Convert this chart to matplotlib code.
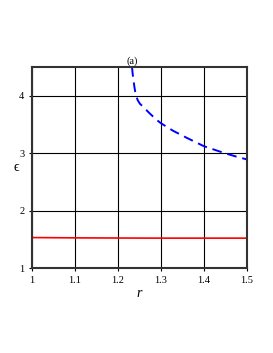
import matplotlib.pyplot as plt
import numpy as np

plt.rcParams['font.family'] = ['Liberation Serif', 'DejaVu Serif']

# blue dashed branch
r_blue = [1.2325, 1.234, 1.236, 1.238, 1.240, 1.2425, 1.246, 1.251, 1.258,
          1.266, 1.274, 1.289, 1.30, 1.328, 1.359, 1.40, 1.448, 1.475, 1.50]
eps_blue = [4.5, 4.39, 4.27, 4.16, 4.07, 3.99, 3.92, 3.86, 3.81,
            3.75, 3.69, 3.585, 3.52, 3.39, 3.27, 3.12, 3.0, 2.94, 2.89]
# red solid branch
r_red = [1.0, 1.1, 1.2, 1.3, 1.4, 1.5]
eps_red = [1.53, 1.525, 1.522, 1.52, 1.52, 1.52]

xticks = [1, 1.1, 1.2, 1.3, 1.4, 1.5]
xticklabels = ['1', '1.1', '1.2', '1.3', '1.4', '1.5']
yticks = [1, 2, 3, 4]

fig = plt.figure(figsize=(2.73, 3.53), dpi=100)
ax = fig.add_axes([32/273, 1 - 268/353, 215/273, 201/353])

ax.plot(r_red, eps_red, color='red', lw=1.2)
ax.plot(r_blue, eps_blue, color='blue', lw=1.4, ls=(0, (5, 3)))

ax.set_xlim(1, 1.5)
ax.set_ylim(1, 4.5)
ax.set_xticks(xticks)
ax.set_xticklabels(xticklabels)
ax.set_yticks(yticks)
ax.grid(True, color='black', lw=0.8)
ax.tick_params(labelsize=7.5, length=2, width=0.8)
for s in ax.spines.values():
    s.set_linewidth(1.5)
    s.set_color('#333333')

ax.set_xlabel('r', fontsize=10, fontstyle='italic', labelpad=2)
ax.set_ylabel('ϵ', fontsize=10, rotation=0, labelpad=2, va='center')
ax.text(1.2336, 4.52, '(a)', fontsize=7.5, ha='center', va='bottom')

fig.savefig('out.png', dpi=100)
